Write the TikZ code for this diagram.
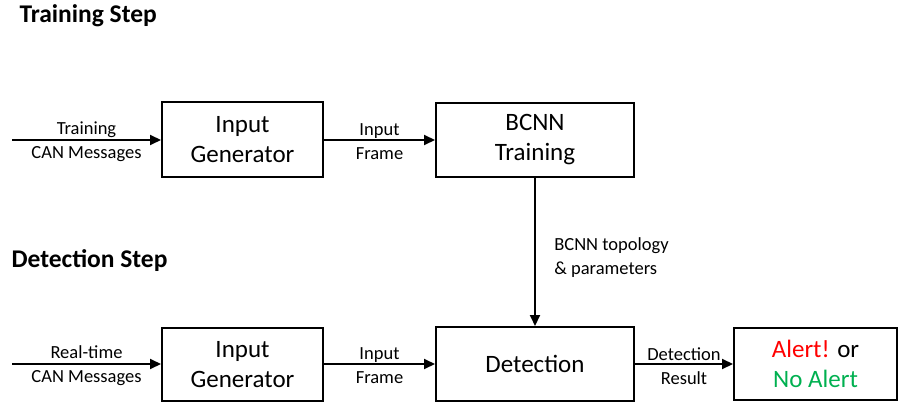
\documentclass[tikz,border=0pt]{standalone}
\usepackage{fontspec}
\setmainfont{Carlito}
\usetikzlibrary{arrows.meta}
\definecolor{alertred}{RGB}{255,0,0}
\definecolor{okgreen}{RGB}{0,176,80}
\begin{document}
\begin{tikzpicture}[x=1pt,y=-1pt,
  blockbox/.style={draw,line width=2pt,inner sep=0pt,align=center,font=\fontsize{25}{30}\selectfont},
  flow/.style={line width=2pt,-{Triangle[length=11pt,width=10pt]}},
  lbl/.style={align=center,font=\fontsize{18.5}{24}\selectfont,yshift=-2pt},
  title/.style={anchor=west,font=\bfseries\fontsize{25.5}{30}\selectfont}]
\useasboundingbox (0,0) rectangle (899,406);
% section titles
\node[title] (ttrain) at (16,16) {Training Step};
\node[title] (tdetect) at (8,261) {Detection Step};
% training row
\node[blockbox,minimum width=161pt,minimum height=75pt] (gen1) at (242.5,139.5) {Input\\Generator};
\node[blockbox,minimum width=198pt,minimum height=74pt] (train) at (535,140) {BCNN\\Training};
\coordinate (in1) at (12,140);
\draw[flow] (in1) -- (gen1.west |- in1) node[midway,lbl] {Training\\CAN Messages};
\draw[flow] (gen1.east |- in1) -- (train.west |- in1) node[midway,lbl] {Input\\Frame};
% detection row
\node[blockbox,minimum width=161pt,minimum height=73pt] (gen2) at (242.5,364.5) {Input\\Generator};
\node[blockbox,minimum width=198pt,minimum height=74pt] (detect) at (535,364) {Detection};
\node[blockbox,minimum width=163pt,minimum height=72pt] (result) at (815.5,364) {\textcolor{alertred}{Alert!} or\\\textcolor{okgreen}{No Alert}};
\coordinate (in2) at (12,364);
\draw[flow] (in2) -- (gen2.west |- in2) node[midway,lbl] {Real-time\\CAN Messages};
\draw[flow] (gen2.east |- in2) -- (detect.west |- in2) node[midway,lbl] {Input\\Frame};
\draw[flow] (detect.east |- in2) -- (result.west |- in2) node[midway,lbl] {Detection\\Result};
% model hand-over
\draw[flow] (train.south) -- (detect.north) node[midway,lbl,anchor=west,align=left,xshift=15pt,yshift=-4pt] {BCNN topology\\\& parameters};
\end{tikzpicture}
\end{document}
